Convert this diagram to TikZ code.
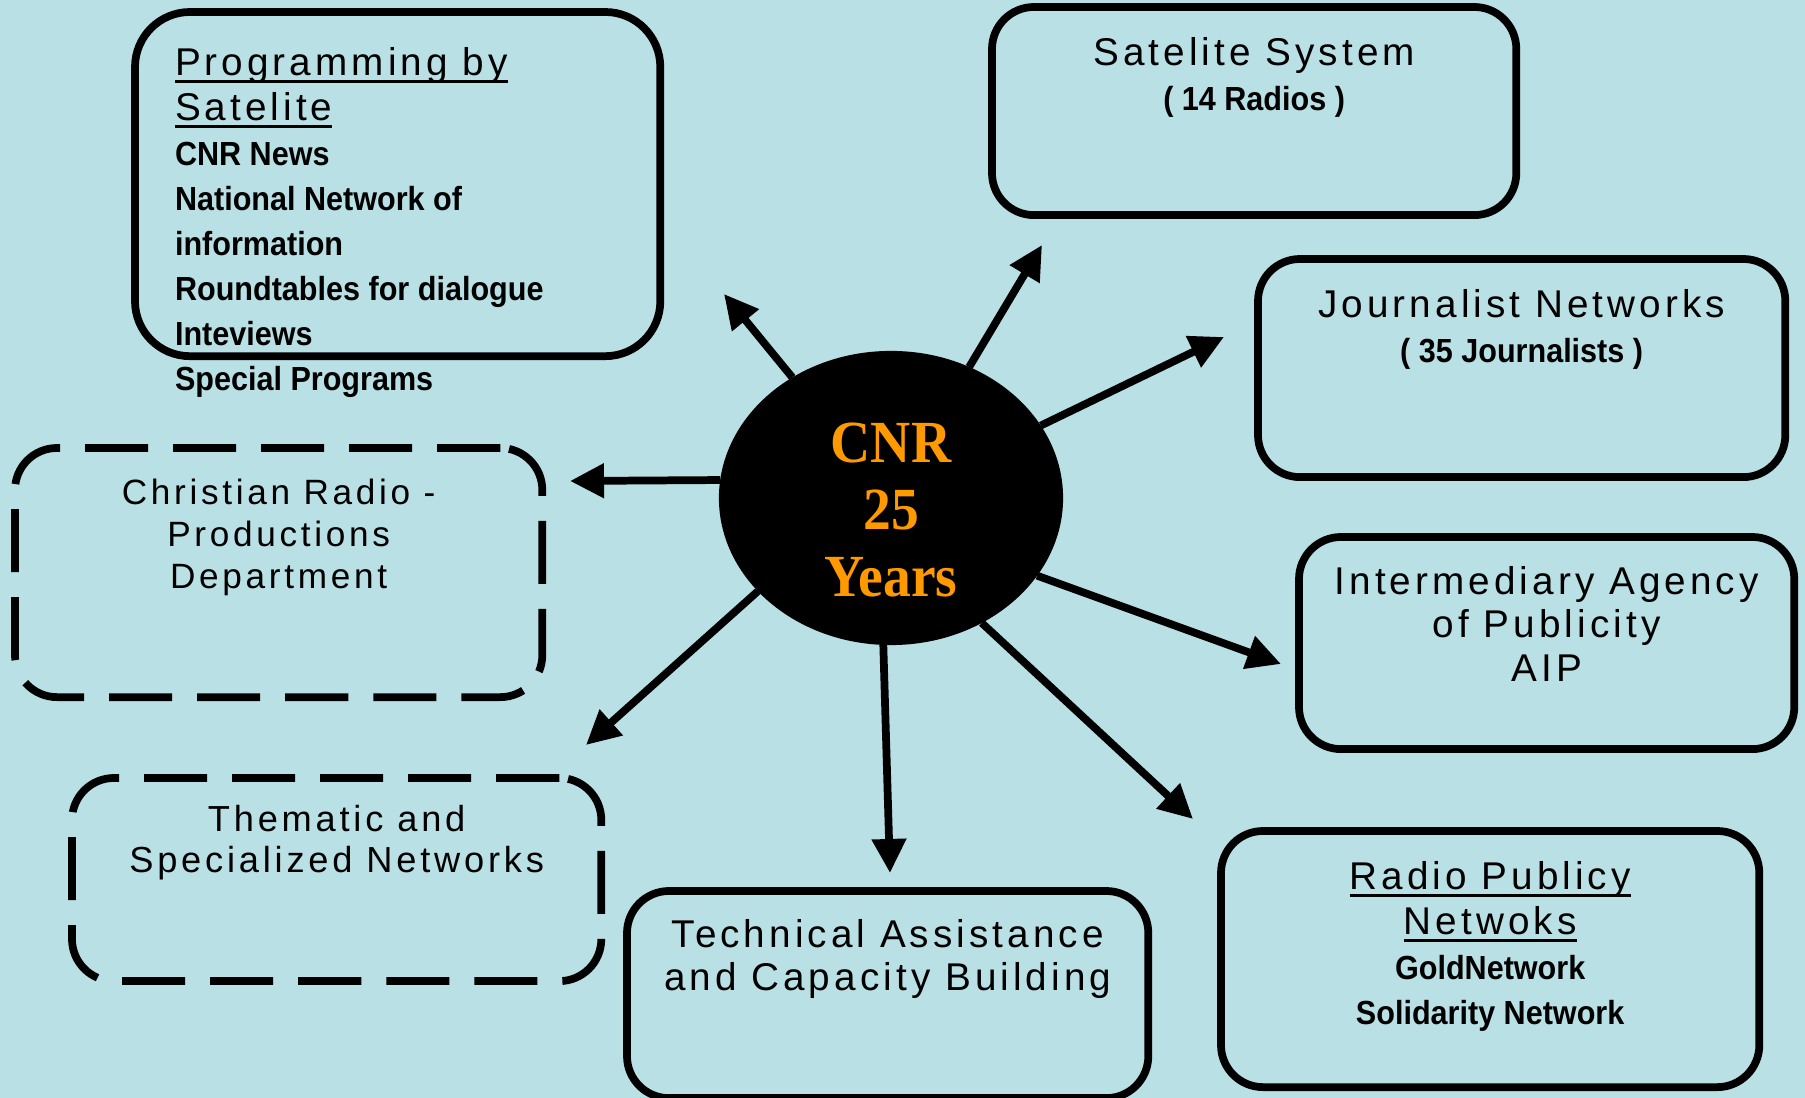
\documentclass[tikz,border=0pt]{standalone}
\usepackage{fontspec}
\setmainfont{Liberation Sans}[LetterSpace=10.5]
\newfontfamily\narrowfont{Liberation Sans}[FakeStretch=0.915]
\newfontfamily\cnrfont{Liberation Serif}[FakeStretch=0.93]
\usetikzlibrary{arrows.meta}
\usetikzlibrary{positioning, shapes.geometric}
\definecolor{bgblue}{RGB}{185,224,228}
\definecolor{cnrorange}{RGB}{255,153,0}
\tikzstyle{box} = [draw, line width=2.2pt,
	rounded corners=0.42cm,
	inner sep=0pt, outer sep=0pt,
	anchor=north west]
\tikzstyle{dashbox} = [box, dash pattern=on 0.63cm off 0.25cm]
\tikzstyle{boxtext} = [inner sep=0pt, outer sep=0pt, align=center,
	font=\fontsize{11}{12.8}\selectfont]
\tikzstyle{cnrtext} = [inner sep=0pt, outer sep=0pt, align=center, text=cnrorange,
	font=\cnrfont\bfseries\fontsize{17}{19}\selectfont]
\tikzstyle{arrow} = [-{Triangle[length=0.34cm, width=0.33cm]}, line width=2.2pt]
\newsavebox{\ulbox}
\newcommand{\ulined}[1]{\sbox{\ulbox}{#1}\rlap{\rule[-2.3pt]{\wd\ulbox}{0.95pt}}\usebox{\ulbox}}
\newcommand{\bfline}[1]{{\narrowfont\bfseries\fontsize{9.5}{12.8}\selectfont #1}}

\begin{document}
\begin{tikzpicture}[x=0.01cm, y=-0.01cm]
	\useasboundingbox (0,0) rectangle (1805,1098);
	\fill[bgblue] (0,0) rectangle (1805,1098);
	
	\node (prog) [box, minimum width=5.25cm, minimum height=3.44cm, rounded corners=0.55cm] at (135,12) {};
	\node (progtxt) [boxtext, align=left, below right=0.35cm and 0.40cm of prog.north west]
		{\ulined{Programming by}\\ \ulined{Satelite}\\ \bfline{CNR News}\\ \bfline{National Network of}\\
		\bfline{information}\\ \bfline{Roundtables for dialogue}\\ \bfline{Inteviews}\\ \bfline{Special Programs}};
	
	\node (sat) [box, minimum width=5.24cm, minimum height=2.08cm] at (992,7) {};
	\node (sattxt) [boxtext, below=0.30cm of sat.north] {Satelite System\\ \bfline{( 14 Radios )}};
	
	\node (jour) [box, minimum width=5.27cm, minimum height=2.18cm] at (1258,259) {};
	\node (jourtxt) [boxtext, below=0.30cm of jour.north] {Journalist Networks\\ \bfline{( 35 Journalists )}};
	
	\node (aip) [box, minimum width=4.95cm, minimum height=2.12cm] at (1299,537) {};
	\node (aiptxt) [boxtext, font=\fontsize{11}{12.4}\selectfont, below=0.29cm of aip.north]
		{Intermediary Agency\\ of Publicity\\ AIP};
	
	\node (radio) [box, minimum width=5.38cm, minimum height=2.56cm] at (1221,831) {};
	\node (radiotxt) [boxtext, below=0.30cm of radio.north]
		{\ulined{Radio Publicy}\\ \ulined{Netwoks}\\ \bfline{GoldNetwork}\\ \bfline{Solidarity Network}};
	
	\node (tech) [box, minimum width=5.21cm, minimum height=2.07cm] at (627,891) {};
	\node (techtxt) [boxtext, font=\fontsize{11}{12.4}\selectfont, below=0.28cm of tech.north]
		{Technical Assistance\\ and Capacity Building};
	
	\node (them) [dashbox, minimum width=5.29cm, minimum height=2.03cm] at (72,778) {};
	\node (themtxt) [boxtext, font=\fontsize{10.3}{11.8}\selectfont, below=0.27cm of them.north]
		{Thematic and\\ Specialized Networks};
	
	\node (chr) [dashbox, minimum width=5.27cm, minimum height=2.49cm] at (15,448) {};
	\node (chrtxt) [boxtext, font=\fontsize{10}{11.9}\selectfont, below=0.31cm of chr.north]
		{Christian Radio -\\ Productions\\ Department};
	
	\coordinate (tipprog) at (724,294);
	\coordinate (tipsat) at (1042,245);
	\coordinate (tipjour) at (1224,337);
	\coordinate (tipchr) at (570,481);
	\coordinate (tipaip) at (1281,664);
	\coordinate (tipradio) at (1193,819);
	\coordinate (tiptech) at (890,873);
	\coordinate (tipthem) at (586,745);
	
	\node (cnr) [ellipse, fill=black, minimum width=3.44cm, minimum height=2.94cm,
		inner sep=0pt, outer sep=0pt] at (891,498) {};
	\node (cnrtxt) [cnrtext, below=0.72cm of cnr.north] {CNR\\ 25\\ Years};
	
	\draw [arrow] (cnr) -- (tipprog);
	\draw [arrow] (cnr) -- (tipsat);
	\draw [arrow] (cnr) -- (tipjour);
	\draw [arrow] (cnr.174) -- (tipchr);
	\draw [arrow] (cnr.-28) -- (tipaip);
	\draw [arrow] (cnr.-54) -- (tipradio);
	\draw [arrow] (cnr.-93) -- (tiptech);
	\draw [arrow] (cnr.215) -- (tipthem);
\end{tikzpicture}
\end{document}
